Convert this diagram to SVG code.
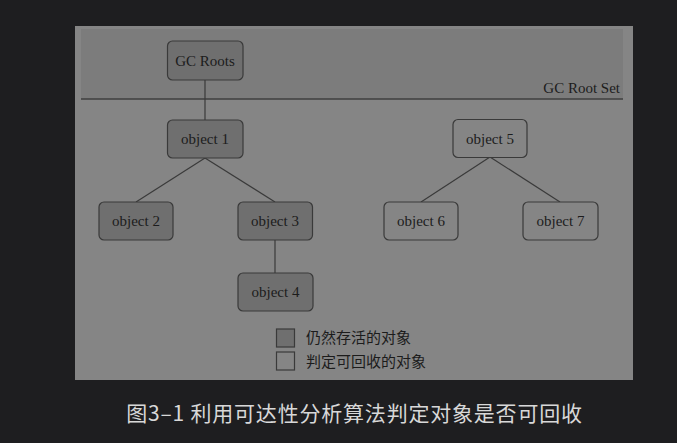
<svg xmlns="http://www.w3.org/2000/svg" width="677" height="443" viewBox="0 0 677 443">
<style>
.node rect{stroke:#3a3a3a;stroke-width:1.2}
.live rect{fill:#6f6f6f}
.dead rect{fill:#858585}
.node text,.lbl{font-family:"Liberation Serif","Times New Roman",serif;font-size:15px;fill:#1c1c1c;text-anchor:middle}
.conn line{stroke:#3a3a3a;stroke-width:1.2}
.leg{font-family:"Liberation Serif","Noto Sans CJK SC",serif;font-size:15px;fill:#1c1c1c}
</style>
<rect x="0" y="0" width="677" height="443" fill="#1e1e20"/>
<rect x="75" y="26" width="558" height="354" fill="#858585"/>
<rect x="81" y="29" width="542" height="70" fill="#7c7c7c"/>
<line x1="81" y1="99" x2="623" y2="99" stroke="#3f3f3f" stroke-width="1.5"/>
<text class="lbl" x="620" y="93" style="text-anchor:end">GC Root Set</text>
<g class="conn">
<line x1="205" y1="80" x2="205" y2="120"/>
<line x1="205" y1="158" x2="136" y2="202"/>
<line x1="205" y1="158" x2="275" y2="202"/>
<line x1="275" y1="240" x2="275" y2="273"/>
<line x1="490" y1="157" x2="421" y2="202"/>
<line x1="490" y1="157" x2="560" y2="202"/>
</g>
<g id="gcroots" class="node live"><rect x="167.5" y="41" width="75.5" height="39" rx="5"/><text x="205" y="66">GC Roots</text></g>
<g id="object1" class="node live"><rect x="167.5" y="120" width="75.5" height="38" rx="5"/><text x="205" y="144">object 1</text></g>
<g id="object2" class="node live"><rect x="99" y="202" width="74" height="38" rx="5"/><text x="136" y="226">object 2</text></g>
<g id="object3" class="node live"><rect x="238" y="202" width="74.5" height="38" rx="5"/><text x="275" y="226">object 3</text></g>
<g id="object4" class="node live"><rect x="238" y="273" width="75" height="38" rx="5"/><text x="275.5" y="297">object 4</text></g>
<g id="object5" class="node dead"><rect x="453" y="119.5" width="74" height="38" rx="5"/><text x="490" y="143.5">object 5</text></g>
<g id="object6" class="node dead"><rect x="384" y="202" width="74" height="38" rx="5"/><text x="421" y="226">object 6</text></g>
<g id="object7" class="node dead"><rect x="523" y="202" width="75" height="38" rx="5"/><text x="560.5" y="226">object 7</text></g>
<g id="legend">
<rect x="276.5" y="329" width="18" height="18" fill="#6f6f6f" stroke="#3a3a3a" stroke-width="1.2"/>
<text class="leg" x="306" y="343">仍然存活的对象</text>
<rect x="276.5" y="352" width="18" height="18" fill="#858585" stroke="#3a3a3a" stroke-width="1.2"/>
<text class="leg" x="306" y="367">判定可回收的对象</text>
</g>
<text x="354.5" y="421" font-family="'Noto Sans CJK SC','Noto Sans',sans-serif" font-size="21" letter-spacing="0.8" fill="#d8d8d8" text-anchor="middle">图3–1 利用可达性分析算法判定对象是否可回收</text>
</svg>
